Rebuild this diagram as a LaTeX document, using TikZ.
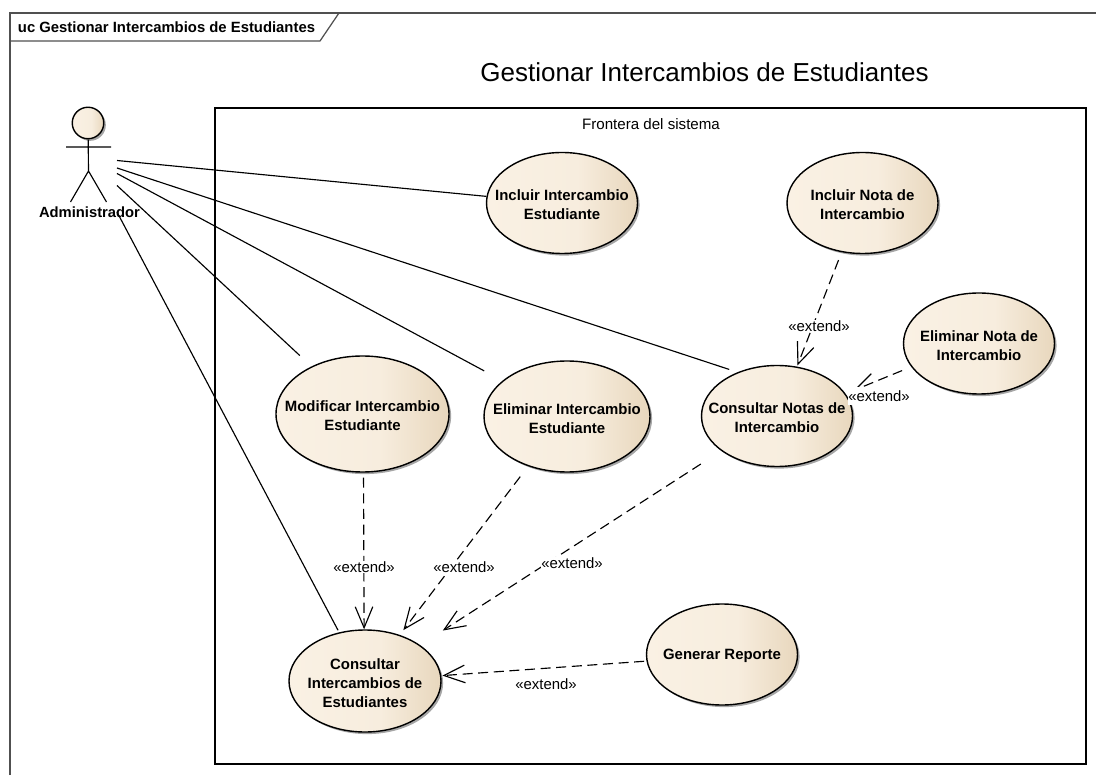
\documentclass[tikz,border=0pt]{standalone}
\usepackage{fontspec}
\setmainfont{Liberation Sans}
\usetikzlibrary{arrows.meta,positioning,shapes.geometric,shadows}
\definecolor{ucleft}{HTML}{FAF1E4}
\definecolor{ucmid}{HTML}{F7EDDE}
\definecolor{ucright}{HTML}{E8D7BD}
\definecolor{framegray}{HTML}{505050}
\pgfdeclarehorizontalshading{ucshade}{100bp}{color(0bp)=(ucleft); color(25bp)=(ucleft); color(55bp)=(ucmid); color(75bp)=(ucright); color(100bp)=(ucright)}

\begin{document}
\begin{tikzpicture}[>={Straight Barb[length=12pt,width=10pt]},
	ucase/.style={ellipse, draw=black, line width=0.8pt, inner sep=0pt, shading=ucshade, drop shadow={shadow xshift=1.2pt, shadow yshift=-1.2pt, fill=black, opacity=0.35}, minimum width=3.02cm, minimum height=2.02cm},
	uctext/.style={align=center, inner sep=0pt, yshift=-1pt, font=\fontsize{8.5}{10.8}\selectfont\bfseries},
	assoc/.style={black, line width=0.65pt},
	dep/.style={black, line width=0.65pt, dash pattern=on 5.7pt off 3.2pt, ->},
	extlabel/.style={fill=white, inner sep=0.4pt, font=\fontsize{8.5}{10}\selectfont}]
		\useasboundingbox (0,0) rectangle (21.92,15.5);

		\draw [framegray, line width = 0.7pt] (0.2,0) -- (0.2,15.24) -- (21.92,15.24);
		\draw [framegray, line width = 0.7pt] (0.2,14.68) -- (6.4,14.68) -- (6.78,15.24);
		\node (tab) at (3.33,14.96) [font=\fontsize{8.45}{10}\selectfont\bfseries] {uc Gestionar Intercambios de Estudiantes};
		\node (title) at (14.09,14.06) [font=\fontsize{14.8}{18}\selectfont] {Gestionar Intercambios de Estudiantes};

		\node (frontera) at (13.01,6.78) [draw=black, line width=0.65pt, fill=white, inner sep=0pt, minimum width=17.42cm, minimum height=13.12cm, drop shadow={shadow xshift=0.7pt, shadow yshift=-0.7pt, fill=black, opacity=0.35}] {};
		\node (fronteralabel) at (13.02,13.02) [font=\fontsize{8.6}{10}\selectfont] {Frontera del sistema};

		\node (admhead) at (1.76,13.04) [circle, draw=black, line width=0.8pt, inner sep=0pt, minimum size=0.63cm, shading=ucshade, drop shadow={shadow xshift=1.2pt, shadow yshift=-1.2pt, fill=black, opacity=0.35}] {};
		\coordinate (hip) at (1.77,12.08);
		\coordinate (armL) at (1.32,12.56);
		\coordinate (armR) at (2.22,12.56);
		\coordinate (legL) at (1.41,11.46);
		\coordinate (legR) at (2.13,11.46);
		\draw [assoc] (admhead) -- (hip) (armL) -- (armR) (legL) -- (hip) -- (legR);
		\node (adm) at (1.79,11.26) [inner sep=0pt, font=\fontsize{8.4}{10}\selectfont\bfseries] {Administrador};
		\coordinate (a1) at (2.34,12.29);
		\coordinate (a2) at (2.34,12.14);
		\coordinate (a3) at (2.34,12.03);
		\coordinate (a4) at (2.34,11.79);
		\coordinate (a5) at (2.34,11.26);

		\node (inclIE) at (11.24,11.44) [ucase, label={[uctext]center:Incluir Intercambio\\Estudiante}] {};
		\node (inclNota) at (17.25,11.44) [ucase, label={[uctext]center:Incluir Nota de\\Intercambio}] {};
		\node (elimNota) at (19.58,8.63) [ucase, label={[uctext]center:Eliminar Nota de\\Intercambio}] {};
		\node (consNotas) at (15.54,7.18) [ucase, label={[uctext]center:Consultar Notas de\\Intercambio}] {};
		\node (modifIE) at (7.25,7.22) [ucase, minimum width=3.46cm, minimum height=2.32cm, label={[uctext]center:Modificar Intercambio\\Estudiante}] {};
		\node (elimIE) at (11.34,7.17) [ucase, minimum width=3.32cm, minimum height=2.22cm, label={[uctext]center:Eliminar Intercambio\\Estudiante}] {};
		\node (consIE) at (7.30,1.88) [ucase, minimum width=3.04cm, minimum height=2.04cm, label={[uctext]center:Consultar\\Intercambios de\\Estudiantes}] {};
		\node (genRep) at (14.44,2.41) [ucase, label={[uctext]center:Generar Reporte}] {};

		\draw [assoc] (a1) -- (inclIE.175.5);
		\draw [assoc, shorten >=5pt] (a2) -- (consNotas.132);
		\draw [assoc, shorten >=11.8pt] (a3) -- (elimIE.151);
		\draw [assoc, shorten >=9.1pt] (a4) -- (modifIE.137.1);
		\draw [assoc, shorten >=1.3pt] (a5) -- (consIE.118.4);

		\draw [dep, shorten <=4.8pt, shorten >=0.7pt] (inclNota.247.2) -- (consNotas.68.2);
		\draw [dep, shorten <=5.6pt, shorten >=5pt] (elimNota.199.9) -- (consNotas.18.9);
		\draw [dep, shorten <=2.8pt] (modifIE.271.1) -- (consIE.91.5);
		\draw [dep, shorten <=7.4pt, shorten >=3.4pt] (elimIE.232.1) -- (consIE.53.1);
		\draw [dep, shorten <=13.8pt, shorten >=15.3pt] (consNotas.212) -- (consIE.33.2);
		\draw [dep, shorten <=1.3pt, shorten >=0.6pt] (genRep.185.3) -- (consIE.4);

		\node (ext1) at (16.38,8.98) [extlabel] {«extend»};
		\node (ext2) at (17.58,7.58) [extlabel, inner ysep=2pt] {«extend»};
		\node (ext3) at (7.28,4.16) [extlabel] {«extend»};
		\node (ext4) at (9.28,4.16) [extlabel] {«extend»};
		\node (ext5) at (11.44,4.24) [extlabel] {«extend»};
		\node (ext6) at (10.92,1.82) [extlabel] {«extend»};
	\end{tikzpicture}
\end{document}
